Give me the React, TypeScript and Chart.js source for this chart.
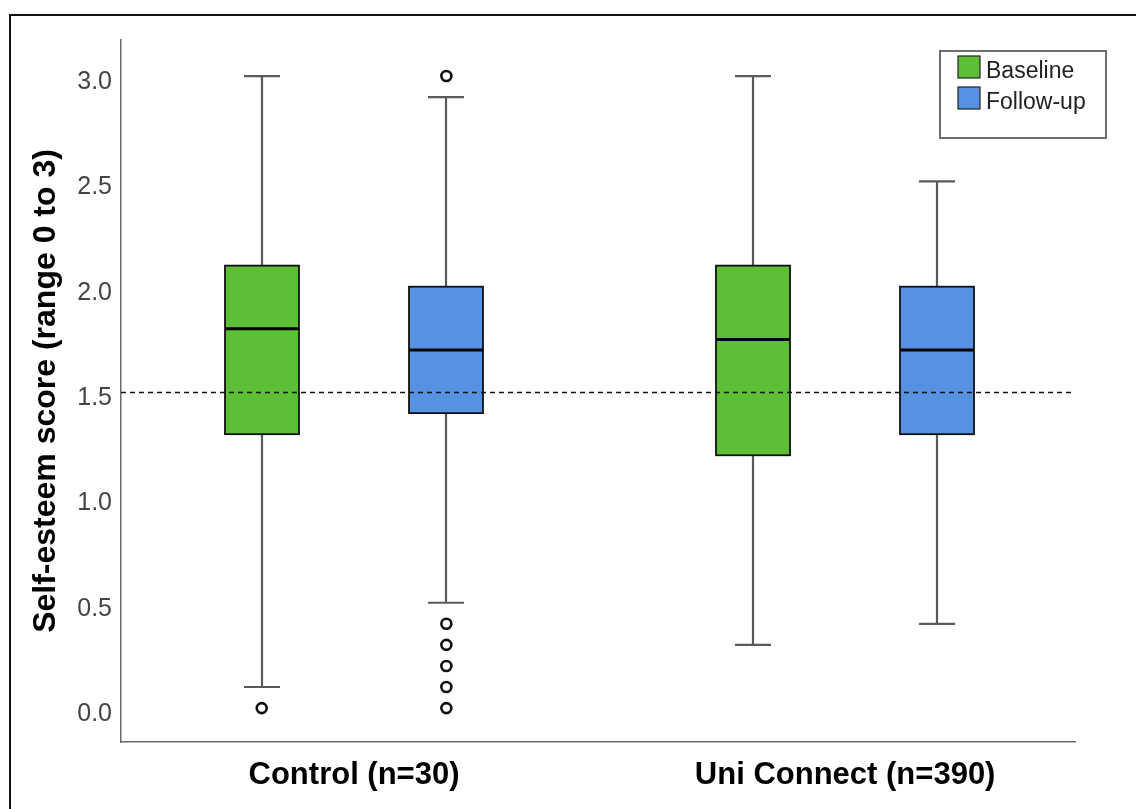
import React, { useEffect, useRef } from "react";
import { Chart, registerables } from "chart.js";
Chart.register(...registerables);

const groups = ["Control (n=30)", "Uni Connect (n=390)"];
const seriesNames = ["Baseline", "Follow-up"];
const groupPositions = [1, 2];
const seriesOffsets = [-0.188, 0.188];

const baselineMin = [0.1, 0.3];
const baselineQ1 = [1.3, 1.2];
const baselineMedian = [1.8, 1.75];
const baselineQ3 = [2.1, 2.1];
const baselineMax = [3.0, 3.0];
const baselineOutliers = [[0.0], []];

const followMin = [0.5, 0.4];
const followQ1 = [1.4, 1.3];
const followMedian = [1.7, 1.7];
const followQ3 = [2.0, 2.0];
const followMax = [2.9, 2.5];
const followOutliers = [[3.0, 0.4, 0.3, 0.2, 0.1, 0.0], []];

const yTicks = [0, 0.5, 1.0, 1.5, 2.0, 2.5, 3.0];
const referenceLine = 1.5;
const yTitle = "Self-esteem score (range 0 to 3)";

const COLORS = ["#5cbf35", "#5592e2"];
const FONT = "'Liberation Sans', Arial, sans-serif";

export default function App() {
  const ref = useRef<HTMLCanvasElement>(null);
  useEffect(() => {
    if (!ref.current) return;
    const series = [
      { min: baselineMin, q1: baselineQ1, med: baselineMedian, q3: baselineQ3, max: baselineMax, out: baselineOutliers },
      { min: followMin, q1: followQ1, med: followMedian, q3: followQ3, max: followMax, out: followOutliers },
    ];

    const boxPlugin = {
      id: "boxes",
      beforeDatasetsDraw(chart: any) {
        const { ctx, chartArea, scales } = chart;
        const x = scales.x;
        const y = scales.y;
        const halfBox = 37;
        const halfCap = 18;
        ctx.save();
        series.forEach((s, si) => {
          groupPositions.forEach((gp, gi) => {
            const cx = Math.round(x.getPixelForValue(gp + seriesOffsets[si]));
            const yMin = y.getPixelForValue(s.min[gi]);
            const yMax = y.getPixelForValue(s.max[gi]);
            const yQ1 = y.getPixelForValue(s.q1[gi]);
            const yQ3 = y.getPixelForValue(s.q3[gi]);
            const yMed = y.getPixelForValue(s.med[gi]);
            // whiskers
            ctx.strokeStyle = "#5a5a5a";
            ctx.lineWidth = 2.2;
            ctx.setLineDash([]);
            ctx.beginPath();
            ctx.moveTo(cx, yMax);
            ctx.lineTo(cx, yQ3);
            ctx.moveTo(cx, yQ1);
            ctx.lineTo(cx, yMin);
            ctx.moveTo(cx - halfCap, yMax);
            ctx.lineTo(cx + halfCap, yMax);
            ctx.moveTo(cx - halfCap, yMin);
            ctx.lineTo(cx + halfCap, yMin);
            ctx.stroke();
            // box
            ctx.fillStyle = COLORS[si];
            ctx.fillRect(cx - halfBox, yQ3, halfBox * 2, yQ1 - yQ3);
            ctx.strokeStyle = "#111";
            ctx.lineWidth = 1.8;
            ctx.strokeRect(cx - halfBox, yQ3, halfBox * 2, yQ1 - yQ3);
            // median
            ctx.strokeStyle = "#000";
            ctx.lineWidth = 3;
            ctx.beginPath();
            ctx.moveTo(cx - halfBox, yMed);
            ctx.lineTo(cx + halfBox, yMed);
            ctx.stroke();
          });
        });
        // reference line
        const yr = Math.round(y.getPixelForValue(referenceLine)) + 0.5;
        ctx.strokeStyle = "#111";
        ctx.lineWidth = 1.4;
        ctx.setLineDash([5, 4]);
        ctx.beginPath();
        ctx.moveTo(chartArea.left, yr);
        ctx.lineTo(chartArea.right, yr);
        ctx.stroke();
        ctx.restore();
      },
      afterDraw(chart: any) {
        const { ctx, chartArea } = chart;
        ctx.save();
        // outer frame (top & left edges)
        ctx.strokeStyle = "#111";
        ctx.lineWidth = 2;
        ctx.setLineDash([]);
        ctx.beginPath();
        ctx.moveTo(10, 820);
        ctx.lineTo(10, 15);
        ctx.lineTo(1140, 15);
        ctx.stroke();
        // legend
        const lx = chartArea.right - 135;
        const ly = 51;
        ctx.strokeStyle = "#6e6e6e";
        ctx.lineWidth = 2;
        ctx.fillStyle = "#fff";
        ctx.fillRect(lx, ly, 166, 87);
        ctx.strokeRect(lx, ly, 166, 87);
        ctx.font = `23px ${FONT}`;
        ctx.textBaseline = "middle";
        ctx.textAlign = "left";
        seriesNames.forEach((name, i) => {
          const sy = ly + 5 + i * 31;
          ctx.fillStyle = COLORS[i];
          ctx.fillRect(lx + 18, sy, 22, 22);
          ctx.strokeStyle = "#222";
          ctx.lineWidth = 1.2;
          ctx.strokeRect(lx + 18, sy, 22, 22);
          ctx.fillStyle = "#222";
          ctx.fillText(name, lx + 46, sy + 16);
        });
        ctx.restore();
      },
    };

    const datasets = series.map((s, si) => ({
      label: seriesNames[si],
      data: s.out.flatMap((vals, gi) =>
        vals.map((v) => ({ x: groupPositions[gi] + seriesOffsets[si], y: v }))
      ),
      pointRadius: 5,
      pointHoverRadius: 5,
      pointBorderWidth: 2.6,
      pointBorderColor: "#111",
      pointBackgroundColor: "#fff",
      showLine: false,
    }));

    const chart = new Chart(ref.current, {
      type: "scatter",
      data: { datasets },
      options: {
        animation: false,
        responsive: false,
        maintainAspectRatio: false,
        layout: { padding: { top: 40, right: 61, left: 0, bottom: 0 } },
        plugins: { legend: { display: false }, tooltip: { enabled: false } },
        scales: {
          x: {
            type: "linear",
            min: 0.5255,
            max: 2.468,
            afterFit: (scale: any) => {
              scale.height = 67;
            },
            afterBuildTicks: (scale: any) => {
              scale.ticks = groupPositions.map((v) => ({ value: v }));
            },
            grid: { display: false, drawTicks: false },
            border: { display: true, color: "#6a6a6a", width: 1.5 },
            ticks: {
              padding: 15,
              autoSkip: false,
              maxRotation: 0,
              color: "#000",
              font: { family: FONT, size: 31, weight: "bold" },
              callback: (v: any) => {
                const i = groupPositions.indexOf(Number(v));
                return i >= 0 ? groups[i] : "";
              },
            },
          },
          y: {
            type: "linear",
            min: -0.161,
            max: 3.171,
            afterFit: (scale: any) => {
              scale.width = 121;
            },
            afterBuildTicks: (scale: any) => {
              scale.ticks = yTicks.map((v) => ({ value: v }));
            },
            grid: { display: false, drawTicks: false },
            border: { display: true, color: "#6a6a6a", width: 1.5 },
            title: {
              display: true,
              text: yTitle,
              color: "#000",
              padding: { top: 27, bottom: 0 },
              font: { family: FONT, size: 32, weight: "bold" },
            },
            ticks: {
              padding: 9,
              labelOffset: 6,
              color: "#444",
              font: { family: FONT, size: 25 },
              callback: (v: any) => Number(v).toFixed(1),
            },
          },
        },
      },
      plugins: [boxPlugin],
    });
    return () => chart.destroy();
  }, []);

  return (
    <div style={{ position: "absolute", left: 0, top: 0, width: 1136, height: 809, background: "#fff" }}>
      <canvas ref={ref} width={1136} height={809} style={{ width: 1136, height: 809, display: "block" }} />
    </div>
  );
}
